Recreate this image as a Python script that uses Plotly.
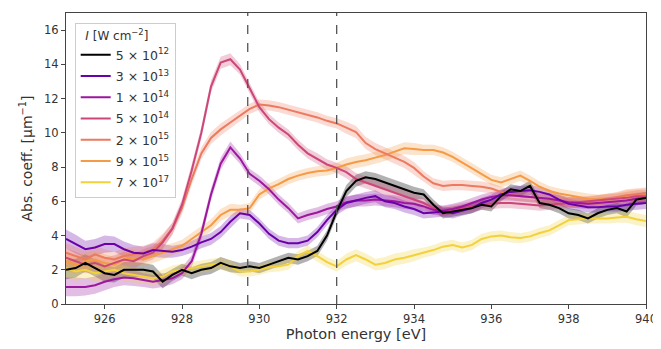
import plotly.graph_objects as go

energy = [925 + 0.25 * i for i in range(61)]

labels = ["5 × 10<sup>12</sup>", "3 × 10<sup>13</sup>", "1 × 10<sup>14</sup>",
          "5 × 10<sup>14</sup>", "2 × 10<sup>15</sup>", "9 × 10<sup>15</sup>",
          "7 × 10<sup>17</sup>"]

i_5e12 = [2.0, 2.1, 2.4, 2.1, 1.8, 1.7, 2.0, 2.0, 2.0, 1.9, 1.3, 1.7, 2.0, 1.8, 2.0, 2.1,
          2.4, 2.2, 2.1, 2.2, 2.1, 2.3, 2.5, 2.7, 2.6, 2.8, 3.1, 4.0, 5.4, 6.6, 7.2, 7.4,
          7.3, 7.1, 6.9, 6.7, 6.5, 6.4, 5.8, 5.3, 5.4, 5.5, 5.6, 5.8, 5.7, 6.3, 6.7, 6.6,
          6.9, 5.9, 5.8, 5.6, 5.3, 5.2, 5.0, 5.3, 5.5, 5.6, 5.4, 6.1, 6.2]
i_3e13 = [3.8, 3.5, 3.2, 3.3, 3.5, 3.5, 3.2, 3.0, 2.95, 3.15, 3.1, 3.05, 3.15, 3.35, 3.6, 3.8,
          4.2, 4.8, 5.3, 5.2, 4.7, 4.1, 3.7, 3.55, 3.55, 3.7, 4.2, 4.9, 5.5, 5.9, 6.05, 6.2,
          6.3, 6.0, 5.9, 5.7, 5.55, 5.3, 5.35, 5.4, 5.3, 5.45, 5.6, 5.9, 6.1, 6.4, 6.55, 6.6,
          6.65, 6.55, 6.4, 6.1, 5.85, 5.75, 5.65, 5.65, 5.7, 5.7, 5.8, 5.85, 5.9]
i_1e14 = [1.0, 1.0, 1.0, 1.1, 1.3, 1.45, 1.55, 1.5, 1.4, 1.3, 1.4, 1.5, 1.8, 2.5, 4.1, 6.4,
          8.2, 9.15, 8.5, 7.6, 7.2, 6.7, 6.1, 5.6, 5.0, 5.2, 5.35, 5.55, 5.7, 5.95, 6.05, 6.05,
          6.1, 6.05, 6.0, 5.9, 5.85, 5.7, 5.5, 5.45, 5.55, 5.7, 5.9, 6.1, 6.25, 6.35, 6.35, 6.3,
          6.25, 6.2, 6.15, 6.05, 5.95, 5.9, 5.85, 5.9, 5.95, 6.0, 6.05, 6.15, 6.2]
i_5e14 = [2.7, 2.5, 2.3, 2.4, 2.2, 2.4, 2.6, 2.5, 2.8, 3.0, 3.6, 4.4, 5.8, 7.8, 10.0, 12.7,
          14.1, 14.3, 13.7, 12.6, 11.5, 10.8, 10.3, 9.9, 9.3, 8.8, 8.5, 8.15, 7.95, 7.7, 7.3, 7.1,
          6.9, 6.7, 6.5, 6.3, 6.1, 5.9, 5.6, 5.4, 5.5, 5.6, 5.7, 5.8, 5.85, 5.9, 5.9, 5.85,
          5.8, 5.75, 5.8, 5.85, 5.9, 5.95, 6.0, 6.05, 6.1, 6.15, 6.2, 6.3, 6.3]
i_2e15 = [3.0, 2.8, 2.6, 2.9, 2.7, 2.6, 2.8, 2.9, 3.0, 3.2, 3.7, 4.4, 5.6, 7.3, 8.8, 9.7,
          10.2, 10.6, 11.0, 11.4, 11.65, 11.6, 11.5, 11.35, 11.2, 11.05, 10.9, 10.7, 10.55, 10.3, 10.05, 9.4,
          9.05, 8.8, 8.55, 8.3, 7.95, 7.45, 7.05, 6.9, 6.95, 6.95, 6.9, 6.85, 6.75, 6.55, 6.4, 6.3,
          6.25, 6.2, 6.15, 6.05, 5.95, 5.95, 5.95, 6.05, 6.15, 6.25, 6.35, 6.4, 6.45]
i_9e15 = [2.5, 2.3, 2.5, 2.6, 2.4, 2.3, 2.6, 2.7, 2.6, 2.8, 3.0, 3.2, 3.4, 3.8, 4.2, 4.6,
          5.2, 5.5, 5.5, 5.6, 6.4, 6.75, 7.0, 7.3, 7.5, 7.65, 7.75, 7.8, 7.95, 8.15, 8.3, 8.4,
          8.55, 8.7, 8.9, 9.1, 9.05, 9.0, 9.0, 8.85, 8.6, 8.25, 7.95, 7.6, 7.25, 7.1, 7.3, 7.5,
          7.2, 6.85, 6.6, 6.45, 6.35, 6.25, 6.15, 6.1, 6.15, 6.2, 6.3, 6.35, 6.4]
i_7e17 = [2.1, 1.9, 2.0, 1.8, 1.9, 2.0, 1.8, 1.7, 1.6, 1.5, 1.6, 1.9, 2.0, 2.1, 2.2, 2.3,
          2.35, 2.2, 1.9, 1.9, 2.0, 2.15, 2.2, 2.3, 2.8, 3.1, 2.8, 2.45, 2.2, 2.6, 2.85, 2.6,
          2.3, 2.4, 2.6, 2.7, 2.85, 3.0, 3.15, 3.35, 3.45, 3.3, 3.45, 3.8, 3.95, 4.0, 3.9, 3.85,
          3.95, 4.15, 4.3, 4.6, 4.9, 4.95, 5.0, 5.0, 5.0, 5.05, 5.1, 4.95, 4.85]

uncert = [0.55, 0.55, 0.5, 0.5, 0.5, 0.45, 0.45, 0.45, 0.4, 0.4, 0.4, 0.35, 0.35, 0.35, 0.35, 0.35,
          0.35, 0.35, 0.3, 0.3, 0.3, 0.3, 0.3, 0.3, 0.3, 0.3, 0.3, 0.3, 0.3, 0.35, 0.35, 0.35,
          0.35, 0.35, 0.35, 0.35, 0.35, 0.3, 0.3, 0.3, 0.3, 0.3, 0.3, 0.3, 0.3, 0.3, 0.3, 0.3,
          0.3, 0.3, 0.3, 0.3, 0.3, 0.3, 0.3, 0.3, 0.3, 0.3, 0.35, 0.35, 0.35]

dashed_at = [929.7, 932.0]

series = [i_5e12, i_3e13, i_1e14, i_5e14, i_2e15, i_9e15, i_7e17]
colors = ["#000000", "#6a00a8", "#9c179e", "#cc4778", "#ec7a5f", "#f59a45", "#f2d13a"]


def rgba(h, a):
    h = h.lstrip("#")
    return "rgba(%d,%d,%d,%.2f)" % (int(h[0:2], 16), int(h[2:4], 16), int(h[4:6], 16), a)


fig = go.Figure()

# uncertainty bands
for ys, c in zip(series, colors):
    up = [y + u for y, u in zip(ys, uncert)]
    lo = [y - u for y, u in zip(ys, uncert)]
    fig.add_trace(go.Scatter(
        x=energy + energy[::-1], y=up + lo[::-1], fill="toself",
        fillcolor=rgba(c, 0.28 if c != "#000000" else 0.3), line=dict(width=0),
        hoverinfo="skip", showlegend=False))

# lines (drawn in reverse so black sits on top)
for k in reversed(range(len(series))):
    fig.add_trace(go.Scatter(
        x=energy, y=series[k], mode="lines", name=labels[k],
        line=dict(color=colors[k], width=2), legendrank=k + 1,
        legendgroup="g%d" % k))

for xv in dashed_at:
    fig.add_shape(type="line", x0=xv, x1=xv, y0=0, y1=1, xref="x", yref="paper",
                  line=dict(color="#555555", width=1.3, dash="dash"))

axis_common = dict(showline=True, linecolor="#444444", linewidth=1, mirror=True,
                   ticks="outside", ticklen=4, tickcolor="#444444", showgrid=False,
                   zeroline=False, tickfont=dict(size=11.5, color="#333333"))

fig.update_layout(
    width=653, height=341,
    margin=dict(l=58, r=12, t=4, b=45),
    paper_bgcolor="white", plot_bgcolor="white",
    font=dict(family="DejaVu Sans", color="#333333"),
    xaxis=dict(range=[925, 940], tickvals=[926, 928, 930, 932, 934, 936, 938, 940],
               title=dict(text="Photon energy [eV]", font=dict(size=14.5), standoff=2),
               **axis_common),
    yaxis=dict(range=[0, 17], tickvals=[0, 2, 4, 6, 8, 10, 12, 14, 16],
               title=dict(text="Abs. coeff. [μm<sup>−1</sup>]", font=dict(size=14), standoff=8),
               **axis_common),
    legend=dict(x=0.015, y=0.964, xanchor="left", yanchor="top",
                title=dict(text="  <i>I</i> [W cm<sup>−2</sup>]", font=dict(size=12), side="top"),
                font=dict(size=12.5), bgcolor="rgba(255,255,255,0.85)",
                bordercolor="#cccccc", borderwidth=1, itemwidth=30, tracegroupgap=2),
    showlegend=True,
)

fig.write_html("out.html")
